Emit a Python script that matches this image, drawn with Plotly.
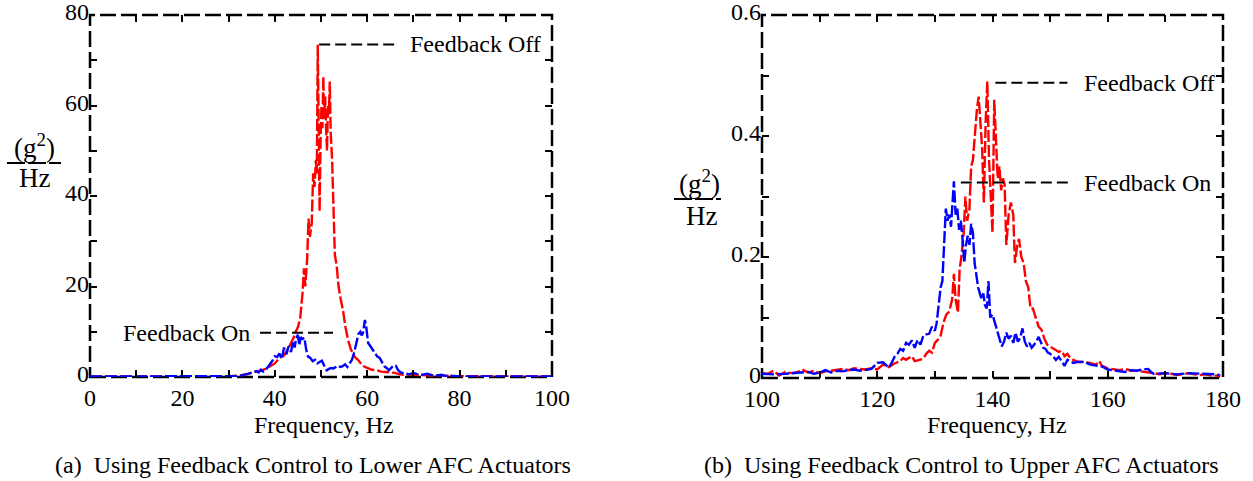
import plotly.graph_objects as go

# ---- (a) Lower AFC actuators: PSD vs frequency ----
freq_a_off = [0, 10, 20, 30, 32, 33, 34, 35, 36, 37, 38, 39, 40, 41, 42, 43, 43.5, 44, 44.5, 45,
              45.5, 46, 46.3, 46.6, 47, 47.3, 47.6, 48, 48.3, 48.6, 48.9, 49.1, 49.3, 49.5, 49.7,
              49.9, 50.1, 50.3, 50.5, 50.7, 50.9, 51.1, 51.3, 51.5, 51.7, 51.9, 52.1, 52.4, 52.7,
              53, 53.4, 53.8, 54.3, 54.8, 55.3, 55.9, 56.5, 57, 57.5, 58, 58.5, 59, 60, 61, 62,
              63, 64, 65, 66, 67, 68, 70, 72, 74, 76, 78, 80, 85, 90, 95, 100]
psd_a_off = [0.1, 0.1, 0.1, 0.15, 0.3, 0.5, 0.6, 1.0, 1.2, 1.4, 1.8, 2.4, 3.0, 4.2, 4.8, 6.5, 7.5,
             8.5, 10.0, 11.0, 13.0, 18.5, 24.0, 20.0, 26.0, 35.0, 31.0, 34.0, 45.0, 42.0, 48.0,
             45.0, 73.4, 58.0, 36.6, 52.0, 60.0, 55.0, 66.4, 57.0, 62.0, 55.0, 50.0, 60.0, 58.0,
             65.3, 54.0, 48.0, 38.0, 27.0, 24.5, 20.0, 17.0, 14.5, 11.0, 8.0, 6.0, 5.0, 4.2, 3.8,
             3.0, 2.5, 2.0, 1.6, 1.5, 1.2, 1.1, 1.0, 0.9, 0.6, 0.5, 0.5, 0.4, 0.3, 0.4, 0.2, 0.2,
             0.1, 0.1, 0.1, 0.1]

freq_a_on = [0, 10, 20, 30, 32, 33, 34, 35, 36, 36.5, 37, 37.5, 38, 38.5, 39, 39.5, 40, 40.5, 41,
             41.5, 42, 42.5, 43, 43.5, 44, 44.3, 44.6, 45, 45.3, 45.6, 46, 46.4, 46.8, 47.2, 47.7,
             48.2, 48.7, 49.2, 49.7, 50.2, 50.7, 51.2, 51.7, 52.2, 52.7, 53.2, 53.7, 54.2, 54.7,
             55.2, 55.7, 56.2, 56.7, 57.2, 57.7, 58.1, 58.5, 58.8, 59.1, 59.5, 59.8, 60.2, 60.7,
             61.2, 61.7, 62.2, 62.7, 63.2, 63.7, 64.2, 64.7, 65.2, 65.7, 66.2, 66.7, 67.2, 68, 69,
             70, 71, 72, 73, 74, 75, 76, 77, 78, 80, 85, 90, 100]
psd_a_on = [0.1, 0.1, 0.1, 0.1, 0.2, 0.4, 0.6, 0.9, 1.3, 1.0, 1.6, 1.2, 1.5, 2.2, 3.0, 3.6, 4.6,
            4.4, 5.2, 4.0, 6.5, 5.0, 6.8, 5.5, 8.0, 6.5, 8.5, 9.3, 7.0, 8.8, 8.4, 8.7, 6.0, 4.5,
            4.2, 3.5, 3.8, 3.0, 3.3, 3.6, 2.5, 1.5, 1.8, 2.0, 1.9, 2.3, 2.5, 2.2, 2.4, 2.8, 2.2,
            3.0, 3.8, 5.5, 7.5, 9.5, 10.0, 9.2, 9.8, 12.6, 11.0, 7.5, 6.8, 6.0, 5.5, 4.5, 4.2,
            3.2, 2.4, 2.0, 1.5, 2.0, 2.6, 2.5, 1.5, 1.0, 0.8, 0.6, 0.9, 0.6, 0.5, 0.7, 0.4, 0.3,
            0.5, 0.2, 0.3, 0.1, 0.1, 0.1, 0.1]

# ---- (b) Upper AFC actuators: PSD vs frequency ----
freq_b_off = [100, 101, 102, 103, 104, 105, 106, 107, 108, 109, 110, 111, 112, 113, 114, 115, 116,
              117, 118, 119, 120, 121, 122, 123, 124, 124.5, 125, 126, 126.5, 127, 128, 128.5, 129,
              129.5, 130, 130.5, 131, 131.5, 132, 132.5, 133, 133.3, 133.6, 134, 134.3, 134.6, 135,
              135.3, 135.6, 136, 136.3, 136.6, 137, 137.3, 137.6, 137.9, 138.2, 138.5, 138.8,
              139.1, 139.4, 139.7, 140.0, 140.3, 140.6, 140.9, 141.2, 141.5, 141.8, 142.1, 142.4,
              142.8, 143.2, 143.6, 143.9, 144.3, 144.6, 145, 145.4, 145.8, 146.2, 146.6, 147,
              147.5, 148, 148.5, 149, 149.5, 150, 150.5, 151, 151.5, 152, 152.5, 153, 153.5, 154,
              155, 156, 157, 158, 158.5, 159, 160, 161, 162, 163, 164, 165, 166, 167, 168, 169,
              170, 171, 172, 173, 174, 175, 176, 177, 178, 179, 179.5]
psd_b_off = [0.008, 0.007, 0.012, 0.004, 0.010, 0.008, 0.009, 0.014, 0.009, 0.012, 0.008, 0.011,
             0.012, 0.013, 0.015, 0.013, 0.016, 0.015, 0.014, 0.016, 0.014, 0.022, 0.018, 0.024,
             0.028, 0.033, 0.030, 0.036, 0.028, 0.029, 0.032, 0.040, 0.045, 0.042, 0.058, 0.063,
             0.070, 0.092, 0.105, 0.110, 0.130, 0.172, 0.130, 0.108, 0.180, 0.200, 0.240, 0.300,
             0.260, 0.280, 0.350, 0.360, 0.410, 0.445, 0.465, 0.420, 0.380, 0.290, 0.420, 0.490,
             0.360, 0.300, 0.240, 0.460, 0.390, 0.330, 0.350, 0.310, 0.330, 0.320, 0.220, 0.270,
             0.290, 0.270, 0.190, 0.220, 0.230, 0.200, 0.190, 0.160, 0.150, 0.115, 0.115, 0.100,
             0.085, 0.080, 0.065, 0.055, 0.052, 0.048, 0.046, 0.043, 0.045, 0.036, 0.040, 0.033,
             0.030, 0.026, 0.027, 0.024, 0.022, 0.028, 0.020, 0.016, 0.014, 0.013, 0.015, 0.012,
             0.012, 0.011, 0.010, 0.008, 0.006, 0.008, 0.007, 0.005, 0.006, 0.008, 0.006, 0.005,
             0.006, 0.004, 0.004, 0.002]

freq_b_on = [100, 102, 104, 106, 108, 109, 110, 111, 112, 113, 114, 115, 116, 117, 118, 119, 119.5,
             120, 121, 121.5, 122, 122.5, 123, 123.5, 124, 124.5, 125, 125.5, 126, 126.5, 127,
             127.5, 128, 128.5, 129, 129.5, 130, 130.3, 130.6, 131, 131.3, 131.6, 131.9, 132.2,
             132.5, 132.8, 133.1, 133.3, 133.6, 133.9, 134.2, 134.5, 134.8, 135.1, 135.4, 135.7,
             136, 136.3, 136.6, 136.9, 137.2, 137.5, 137.8, 138.1, 138.4, 138.7, 139, 139.3,
             139.6, 140, 140.4, 140.8, 141.2, 141.6, 142, 142.4, 142.8, 143.2, 143.6, 144, 144.4,
             144.8, 145.2, 145.6, 146, 146.4, 146.8, 147.2, 147.6, 148, 148.4, 148.8, 149.2,
             149.6, 150, 150.5, 151, 151.5, 152, 152.5, 153, 153.5, 154, 155, 156, 157, 158, 159,
             160, 161, 162, 163, 164, 165, 166, 167, 167.5, 168, 170, 172, 174, 176, 178, 179,
             179.5]
psd_b_on = [0.007, 0.006, 0.007, 0.008, 0.010, 0.007, 0.009, 0.013, 0.009, 0.012, 0.011, 0.013,
            0.014, 0.012, 0.014, 0.015, 0.020, 0.025, 0.026, 0.022, 0.017, 0.025, 0.035, 0.040,
            0.048, 0.045, 0.058, 0.055, 0.062, 0.050, 0.063, 0.055, 0.070, 0.072, 0.073, 0.085,
            0.078, 0.090, 0.120, 0.150, 0.160, 0.220, 0.280, 0.260, 0.270, 0.250, 0.300, 0.325,
            0.270, 0.280, 0.245, 0.260, 0.230, 0.190, 0.220, 0.235, 0.220, 0.255, 0.240, 0.190,
            0.170, 0.150, 0.140, 0.130, 0.140, 0.120, 0.115, 0.160, 0.100, 0.105, 0.092, 0.080,
            0.068, 0.052, 0.060, 0.075, 0.065, 0.070, 0.058, 0.075, 0.060, 0.066, 0.082, 0.060,
            0.052, 0.058, 0.050, 0.055, 0.060, 0.068, 0.058, 0.050, 0.048, 0.042, 0.040, 0.036,
            0.030, 0.035, 0.028, 0.020, 0.030, 0.027, 0.025, 0.027, 0.026, 0.022, 0.020, 0.019,
            0.014, 0.013, 0.012, 0.010, 0.013, 0.012, 0.014, 0.015, 0.010, 0.007, 0.008, 0.006,
            0.008, 0.007, 0.007, 0.006, 0.004]

# axis ranges and tick labels
range_a_x, range_a_y = [0, 100], [0, 80]
range_b_x, range_b_y = [100, 180], [0, 0.6]
ticks_b_y = [0, 0.2, 0.4, 0.6]
ticktext_b_y = ["0", "0.2", "0.4", "0.6"]

SERIF = "Times New Roman, Liberation Serif, serif"
W, H = 1253, 481
RED, BLUE = "#ff0000", "#0000ff"
CURVE_DASH = "12px,3px"
FRAME_DASH = "16px,5px"
LEADER_DASH = "11px,5px"

fig = go.Figure()


def curve(x, y, color, xa, ya):
    fig.add_trace(go.Scatter(
        x=x, y=y, mode="lines", xaxis=xa, yaxis=ya, showlegend=False,
        line=dict(color=color, width=2.4, dash=CURVE_DASH),
    ))


curve(freq_a_off, psd_a_off, RED, "x", "y")
curve(freq_a_on, psd_a_on, BLUE, "x", "y")
curve(freq_b_off, psd_b_off, RED, "x2", "y2")
curve(freq_b_on, psd_b_on, BLUE, "x2", "y2")

tick_font = dict(family=SERIF, size=24, color="black")


def axis_style(rng, dtick, minor, domain, anchor):
    return dict(
        range=rng, domain=domain, anchor=anchor, dtick=dtick, tick0=rng[0],
        showgrid=False, zeroline=False, showline=False, mirror="ticks",
        automargin=False,
        ticks="inside", ticklen=7, tickwidth=2, tickcolor="black",
        minor=dict(dtick=minor, tick0=rng[0], ticks="inside", ticklen=7,
                   tickwidth=2, tickcolor="black", showgrid=False),
        tickfont=tick_font, fixedrange=True,
    )


def px_x(p):
    return p / W


def px_y(p):
    return 1 - p / H


xa = axis_style(range_a_x, 20, 10, [px_x(90), px_x(552)], "y")
ya = axis_style(range_a_y, 20, 10, [px_y(377), px_y(15)], "x")
xb = axis_style(range_b_x, 20, 10, [px_x(762), px_x(1223)], "y2")
yb = axis_style(range_b_y, 0.2, 0.1, [px_y(378), px_y(15)], "x2")
for ax in (xa, xb):
    ax["ticklabelstandoff"] = 4
for ax in (ya, yb):
    ax["ticklabelstandoff"] = 0
    ax["ticklabelshift"] = -3
    ax["ticklabeloverflow"] = "allow"
yb["tickvals"] = ticks_b_y
yb["ticktext"] = ticktext_b_y

shapes = []
# dashed frames around both panels
for xr, yr in (("x domain", "y domain"), ("x2 domain", "y2 domain")):
    shapes.append(dict(type="rect", xref=xr, yref=yr, x0=0, x1=1, y0=0, y1=1,
                       line=dict(color="black", width=2.5, dash=FRAME_DASH), layer="below"))

# leader lines to the curve labels
leaders = [
    ("x", "y", 49.6, 66.5, 73.5),
    ("x", "y", 36.8, 52.6, 9.8),
    ("x2", "y2", 140.5, 153.0, 0.488),
    ("x2", "y2", 134.5, 153.4, 0.323),
]
for xr, yr, x0, x1, yv in leaders:
    shapes.append(dict(type="line", xref=xr, yref=yr, x0=x0, x1=x1, y0=yv, y1=yv,
                       line=dict(color="black", width=2, dash=LEADER_DASH)))

# fraction bars of the y-axis unit labels
for x0, x1, yv in ((7, 61, 163), (674, 721, 199)):
    shapes.append(dict(type="line", xref="paper", yref="paper",
                       x0=px_x(x0), x1=px_x(x1), y0=px_y(yv), y1=px_y(yv),
                       line=dict(color="black", width=2, dash="18px,3px")))

label_font = dict(family=SERIF, size=24, color="black")
unit_font = dict(family=SERIF, size=27, color="black")
title_font = dict(family=SERIF, size=24, color="black")
caption_font = dict(family=SERIF, size=24, color="black")


def paper_text(x, y, text, font, xanchor="center"):
    return dict(x=px_x(x), y=px_y(y), xref="paper", yref="paper", text=text,
                showarrow=False, xanchor=xanchor, yanchor="middle", font=font)


annotations = [
    dict(x=68.8, y=73.5, xref="x", yref="y", text="Feedback Off", showarrow=False,
         xanchor="left", yanchor="middle", font=label_font),
    dict(x=35.1, y=9.8, xref="x", yref="y", text="Feedback On", showarrow=False,
         xanchor="right", yanchor="middle", font=label_font),
    dict(x=155.5, y=0.488, xref="x2", yref="y2", text="Feedback Off", showarrow=False,
         xanchor="left", yanchor="middle", font=label_font),
    dict(x=155.5, y=0.323, xref="x2", yref="y2", text="Feedback On", showarrow=False,
         xanchor="left", yanchor="middle", font=label_font),
    # y-axis unit (g^2)/Hz for each panel
    paper_text(34, 146, "(g<sup>2</sup>)", unit_font),
    paper_text(34, 178, "Hz", unit_font),
    paper_text(699, 182, "(g<sup>2</sup>)", unit_font),
    paper_text(701, 216, "Hz", unit_font),
    # x-axis titles
    paper_text(324, 425, "Frequency, Hz", title_font),
    paper_text(997, 425, "Frequency, Hz", title_font),
    # panel captions
    paper_text(313, 465, "(a)  Using Feedback Control to Lower AFC Actuators", caption_font),
    paper_text(961, 465, "(b)  Using Feedback Control to Upper AFC Actuators", caption_font),
]

fig.update_layout(
    width=W, height=H, margin=dict(l=0, r=0, t=0, b=0, autoexpand=False),
    paper_bgcolor="white", plot_bgcolor="white",
    xaxis=xa, yaxis=ya, xaxis2=xb, yaxis2=yb,
    shapes=shapes, annotations=annotations, showlegend=False,
)

fig.write_html("out.html", config=dict(displayModeBar=False))
